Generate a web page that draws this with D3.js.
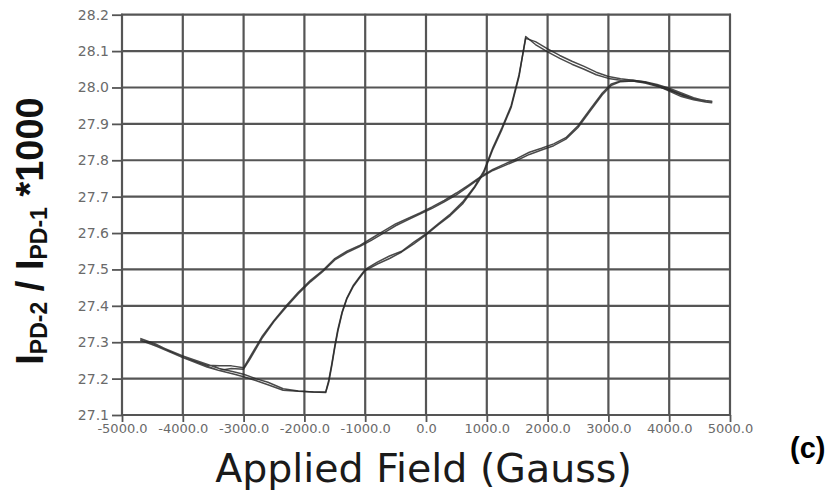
<!DOCTYPE html>
<html><head><meta charset="utf-8">
<script src="https://cdn.jsdelivr.net/npm/d3@7"></script>
<style>body{margin:0;background:#fff;}</style>
</head><body>
<svg id="chart" width="833" height="495"></svg>
<script>
const xTicks = [-5000,-4000,-3000,-2000,-1000,0,1000,2000,3000,4000,5000];
const yTicks = [27.1,27.2,27.3,27.4,27.5,27.6,27.7,27.8,27.9,28.0,28.1,28.2];

const upField = [-4700,-4450,-4200,-4000,-3700,-3400,-3150,-3000,-2800,-2600,-2350,-2100,-1850,-1650,-1600,-1550,-1500,-1450,-1380,-1300,-1200,-1100,-1000,-800,-600,-400,-200,0,200,400,600,800,950,1100,1250,1400,1530,1640,1800,2000,2200,2400,2600,2800,3000,3200,3400,3600,3800,4000,4200,4400,4600,4700];
const upRatio1 = [27.31,27.295,27.275,27.262,27.245,27.228,27.218,27.212,27.200,27.190,27.172,27.166,27.163,27.162,27.19,27.235,27.285,27.33,27.38,27.42,27.452,27.475,27.497,27.515,27.53,27.548,27.57,27.595,27.622,27.648,27.68,27.725,27.765,27.83,27.885,27.945,28.03,28.14,28.118,28.098,28.08,28.064,28.05,28.035,28.025,28.02,28.018,28.012,28.003,27.993,27.98,27.97,27.964,27.962];
const upRatio2 = [27.305,27.29,27.272,27.258,27.24,27.222,27.212,27.205,27.195,27.183,27.168,27.165,27.163,27.163,27.195,27.24,27.29,27.335,27.383,27.422,27.455,27.478,27.5,27.52,27.537,27.55,27.575,27.598,27.625,27.652,27.685,27.728,27.77,27.835,27.89,27.95,28.035,28.135,28.126,28.106,28.088,28.072,28.058,28.042,28.03,28.024,28.02,28.015,28.005,27.99,27.975,27.966,27.96,27.958];

const downField = [4600,4400,4200,4000,3800,3600,3400,3200,3050,2900,2700,2500,2300,2100,1900,1700,1500,1300,1100,900,700,500,300,100,-100,-300,-500,-700,-900,-1100,-1300,-1500,-1700,-1900,-2100,-2300,-2500,-2700,-2900,-3000,-3200,-3400,-3600,-3800,-4000,-4200,-4400,-4700];
const downRatio1 = [27.963,27.972,27.985,27.998,28.008,28.016,28.02,28.018,28.01,27.985,27.94,27.895,27.862,27.845,27.833,27.822,27.805,27.79,27.775,27.755,27.732,27.71,27.69,27.672,27.655,27.64,27.625,27.605,27.585,27.565,27.55,27.53,27.497,27.47,27.437,27.40,27.36,27.315,27.258,27.23,27.235,27.235,27.237,27.248,27.262,27.276,27.29,27.31];
const downRatio2 = [27.96,27.968,27.98,27.994,28.006,28.014,28.018,28.016,28.006,27.98,27.935,27.89,27.858,27.84,27.828,27.816,27.8,27.786,27.772,27.752,27.728,27.705,27.686,27.668,27.652,27.636,27.62,27.6,27.58,27.562,27.546,27.526,27.494,27.466,27.433,27.396,27.357,27.31,27.252,27.226,27.228,27.222,27.232,27.245,27.258,27.273,27.287,27.306];

const xTitle = "Applied Field (Gauss)";
const panelLabel = "(c)";

const svg = d3.select("#chart");
const L = 122, R = 730, T = 14.7, B = 415;
const x = d3.scaleLinear().domain([-5000,5000]).range([L,R]);
const y = d3.scaleLinear().domain([27.1,28.2]).range([B,T]);

// grid
const grid = svg.append("g").attr("stroke","#555").attr("stroke-width",2.2);
grid.selectAll("line.v").data(xTicks).join("line").attr("class","v")
  .attr("x1",d=>x(d)).attr("x2",d=>x(d)).attr("y1",T-1).attr("y2",B+1);
grid.selectAll("line.h").data(yTicks).join("line").attr("class","h")
  .attr("x1",L-1).attr("x2",R+1).attr("y1",d=>y(d)).attr("y2",d=>y(d));

// axes
const yAxis = svg.append("g").attr("transform",`translate(${L},0)`)
  .call(d3.axisLeft(y).tickValues(yTicks).tickFormat(d=>d.toFixed(1)).tickSize(10).tickPadding(3));
const xAxis = svg.append("g").attr("transform",`translate(0,${B})`)
  .call(d3.axisBottom(x).tickValues(xTicks).tickFormat(d=>d.toFixed(1)).tickSize(7).tickPadding(2));
[yAxis,xAxis].forEach(a=>{
  a.select(".domain").remove();
  a.selectAll(".tick line").attr("stroke","#555").attr("stroke-width",1.8);
  a.selectAll(".tick text").attr("fill","#6a6a6a").attr("font-family","DejaVu Sans, Verdana, sans-serif");
});
yAxis.selectAll(".tick text").attr("font-size",14);
xAxis.selectAll(".tick text").attr("font-size",13);

// data lines
const line = d3.line().x(d=>x(d[0])).y(d=>y(d[1]));
const cycles = [
  upField.map((f,i)=>[f,upRatio1[i]]).concat(downField.map((f,i)=>[f,downRatio1[i]])),
  upField.map((f,i)=>[f,upRatio2[i]]).concat(downField.map((f,i)=>[f,downRatio2[i]]))
];
svg.append("g").selectAll("path").data(cycles).join("path")
  .attr("d",line).attr("fill","none").attr("stroke","#2a2a2a")
  .attr("stroke-width",1.5).attr("stroke-opacity",0.85).attr("stroke-linejoin","round");

// y title
const yt = svg.append("text")
  .attr("transform","translate(43,231) rotate(-90)")
  .attr("text-anchor","middle")
  .attr("font-family","Liberation Sans, Arial, sans-serif")
  .attr("font-weight","bold").attr("font-size",38).attr("fill","#111")
  .style("white-space","pre");
yt.append("tspan").text("I");
yt.append("tspan").attr("font-size",23).attr("dy",4).text("PD-2");
yt.append("tspan").attr("dy",-4).text(" / I");
yt.append("tspan").attr("font-size",23).attr("dy",4).text("PD-1");
yt.append("tspan").attr("dy",-4).text(" *1000");

// x title
svg.append("text").attr("x",423.5).attr("y",482).attr("text-anchor","middle")
  .attr("font-family","DejaVu Sans, Verdana, sans-serif").attr("font-size",39.5)
  .attr("fill","#1a1a1a").text(xTitle);

// panel label
svg.append("text").attr("x",790).attr("y",458)
  .attr("font-family","Liberation Sans, Arial, sans-serif").attr("font-weight","bold")
  .attr("font-size",29).attr("fill","#000").text(panelLabel);
</script>
</body></html>
